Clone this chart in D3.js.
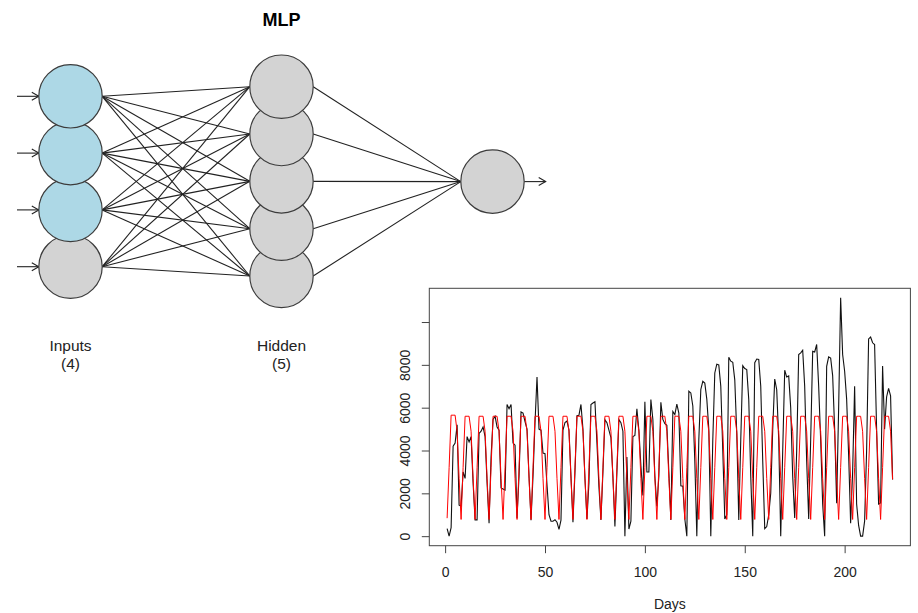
<!DOCTYPE html>
<html>
<head>
<meta charset="utf-8">
<script src="https://cdn.jsdelivr.net/npm/d3@7"></script>
<style>
  body { margin: 0; background: #fff; }
  svg { display: block; font-family: "Liberation Sans", Arial, Helvetica, sans-serif; }
</style>
</head>
<body>
<script>
// Data

// network layers
const layerNames = ['Inputs', 'Hidden', 'Output'];
const layerSizes = [4, 5, 1];
const laggedInputs = 3;

// daily series, days 1..224
const actual = [
  350, 0, 400, 4200, 4350, 5200, 1450, 1400, 3000, 2700, 4650, 4400, 4650, 2500,
  760, 760, 4800, 4900, 5100, 4650, 2500, 600, 3700, 5450, 5600, 5100, 4950, 2250,
  2200, 2150, 6150, 5950, 6150, 4350, 4250, 850, 2800, 5800, 5750, 5350, 5000, 2800,
  750, 2800, 5300, 7430, 5000, 4950, 3880, 3850, 2400, 1000, 700, 700, 770, 650,
  320, 750, 4950, 5300, 5380, 4950, 2800, 650, 3000, 5630, 5650, 6150, 5000, 2700,
  800, 2500, 6150, 6220, 6280, 4350, 2300, 760, 3000, 5440, 5300, 4950, 4600, 2800,
  450, 3000, 5450, 5300, 4900, 0, 3700, 330, 700, 4650, 4700, 5950, 4950, 3300,
  1900, 6280, 3000, 3000, 6380, 5450, 2800, 1400, 2800, 6250, 5450, 5250, 5180, 3000,
  760, 5820, 5680, 6170, 5750, 2350, 2330, 800, 0, 6770, 6690, 6080, 3500, 0,
  4500, 6850, 7230, 7150, 6400, 5000, 0, 4500, 7620, 8030, 8000, 7000, 4000, 800,
  1000, 8350, 8170, 8120, 7300, 4800, 760, 4500, 7960, 7830, 7780, 6380, 2800, 0,
  8100, 8270, 8250, 7000, 3500, 350, 450, 1000, 2000, 5000, 7340, 6840, 4500, 0,
  4000, 7750, 7430, 7480, 6000, 2800, 850, 4000, 8480, 8560, 8680, 7000, 3500, 800,
  4500, 8630, 8600, 8950, 7000, 4500, 1500, 0, 7930, 8370, 8320, 7500, 5000, 1540,
  6000, 11130, 8480, 7700, 6400, 3800, 600, 3000, 7000, 1500, 500, 0, 0, 700,
  4000, 9210, 9300, 9030, 8950, 5000, 1500, 1550, 7950, 5000, 6500, 6900, 6550, 2650
];

const fitted = [
  840, 3200, 5650, 5650, 5650, 4900, 2700,
  780, 3200, 5600, 5600, 5600, 4900, 2700,
  780, 3200, 5600, 5600, 5600, 4900, 2700,
  780, 3200, 5600, 5600, 5600, 4900, 2700,
  780, 3200, 5600, 5600, 5600, 4900, 2700,
  780, 3200, 5600, 5600, 5600, 4900, 2700,
  780, 3200, 5600, 5600, 5600, 4900, 2700,
  780, 3200, 5600, 5600, 5600, 4900, 2700,
  780, 3200, 5600, 5600, 5600, 4900, 2700,
  780, 3200, 5600, 5600, 5600, 4900, 2700,
  780, 3200, 5600, 5600, 5600, 4900, 2700,
  780, 3200, 5600, 5600, 5600, 4900, 2700,
  780, 3200, 5600, 5600, 5600, 4900, 2700,
  780, 3200, 5600, 5600, 5600, 4900, 2700,
  780, 3200, 5600, 5600, 5600, 4900, 2700,
  780, 3200, 5600, 5600, 5600, 4900, 2700,
  780, 3200, 5600, 5600, 5600, 4900, 2700,
  780, 3200, 5600, 5600, 5600, 4900, 2700,
  780, 3200, 5600, 5600, 5600, 4900, 2700,
  780, 3200, 5600, 5600, 5600, 4900, 2700,
  780, 3200, 5600, 5600, 5600, 4900, 2700,
  780, 3200, 5600, 5600, 5600, 4900, 2700,
  780, 3200, 5600, 5600, 5600, 4900, 2700,
  780, 3200, 5600, 5600, 5600, 4900, 2700,
  780, 3200, 5600, 5600, 5600, 4900, 2700,
  780, 3200, 5600, 5600, 5600, 4900, 2700,
  780, 3200, 5600, 5600, 5600, 4900, 2700,
  780, 3200, 5600, 5600, 5600, 4900, 2700,
  780, 3200, 5600, 5600, 5600, 4900, 2700,
  780, 3200, 5600, 5600, 5600, 4900, 2700,
  780, 3200, 5600, 5600, 5600, 4900, 2700,
  780, 3200, 5600, 5600, 5600, 4900, 2650
];

const xTicks = [0, 50, 100, 150, 200];
const yTicks = [0, 2000, 4000, 6000, 8000, 10000];
const yTickLabels = ['0', '2000', '4000', '6000', '8000', ''];

// SVG setup
const width = 918;
const height = 613;

const svg = d3.select('body')
.append('svg')
.attr('width', width)
.attr('height', height);

// ---------- MLP diagram ----------
const radius = 31.7;
const lineColor = '#222';

const xLayer = d3.scalePoint()
.domain(layerNames)
.range([70.5, 492.5]);

const yLayer = {
    Inputs: d3.scalePoint().domain(d3.range(layerSizes[0])).range([96.3, 266.7]),
    Hidden: d3.scalePoint().domain(d3.range(layerSizes[1])).range([86.7, 276]),
    Output: d3.scalePoint().domain(d3.range(layerSizes[2])).range([181.6, 181.6])
};

const nodes = [];
layerNames.forEach((name, li) => {
    d3.range(layerSizes[li]).forEach(i => {
        nodes.push({ layer: name, li: li, i: i, x: xLayer(name), y: yLayer[name](i) });
    });
});

const edges = [];
nodes.forEach(a => {
    nodes.filter(b => b.li === a.li + 1).forEach(b => edges.push({ a, b }));
});

svg.append('g')
.selectAll('line')
.data(edges)
.enter()
.append('line')
.attr('x1', d => d.a.x + radius)
.attr('y1', d => d.a.y)
.attr('x2', d => d.b.x - radius)
.attr('y2', d => d.b.y)
.attr('stroke', lineColor)
.attr('stroke-width', 1.1);

// arrows in and out
function arrow(x1, y1, x2) {
    const g = svg.append('g')
    .attr('stroke', lineColor)
    .attr('stroke-width', 1.1)
    .attr('fill', 'none');
    g.append('line').attr('x1', x1).attr('y1', y1).attr('x2', x2).attr('y2', y1);
    g.append('path').attr('d', `M${x2 - 7},${y1 - 4}L${x2},${y1}L${x2 - 7},${y1 + 4}`);
}
nodes.filter(d => d.li === 0).forEach(d => arrow(17, d.y, d.x - radius));
nodes.filter(d => d.li === 2).forEach(d => arrow(d.x + radius, d.y, 545.7));

// circles: bottom drawn first so the upper ones overlap it
svg.append('g')
.selectAll('circle')
.data(nodes.slice().sort((p, q) => q.i - p.i))
.enter()
.append('circle')
.attr('cx', d => d.x)
.attr('cy', d => d.y)
.attr('r', radius)
.attr('fill', d => (d.li === 0 && d.i < laggedInputs) ? '#add8e6' : '#d3d3d3')
.attr('stroke', '#3c3c3c')
.attr('stroke-width', 1.2);

svg.append('text')
.attr('x', xLayer('Hidden'))
.attr('y', 26)
.attr('text-anchor', 'middle')
.attr('font-size', '18px')
.attr('font-weight', 'bold')
.text('MLP');

['Inputs', 'Hidden'].forEach((name, li) => {
    const t = svg.append('text')
    .attr('text-anchor', 'middle')
    .attr('font-size', '15.5px')
    .attr('fill', '#222');
    t.append('tspan').attr('x', xLayer(name)).attr('y', 350.5).text(name);
    t.append('tspan').attr('x', xLayer(name)).attr('y', 369).text(`(${layerSizes[li]})`);
});

// ---------- time series plot ----------
const box = { left: 429.3, right: 910.4, top: 288.3, bottom: 545.7 };

const xPad = (actual.length - 1) * 0.04;
const xScale = d3.scaleLinear()
.domain([1 - xPad, actual.length + xPad])
.range([box.left, box.right]);

const yMax = d3.max(actual);
const yPad = yMax * 0.04;
const yScale = d3.scaleLinear()
.domain([-yPad, yMax + yPad])
.range([box.bottom, box.top]);

const line = d3.line()
.x((d, i) => xScale(i + 1))
.y(d => yScale(d));

svg.append('path')
.datum(actual)
.attr('d', line)
.attr('fill', 'none')
.attr('stroke', '#111')
.attr('stroke-width', 1.1);

svg.append('path')
.datum(fitted)
.attr('d', line)
.attr('fill', 'none')
.attr('stroke', '#ff0000')
.attr('stroke-width', 1);

svg.append('rect')
.attr('x', box.left)
.attr('y', box.top)
.attr('width', box.right - box.left)
.attr('height', box.bottom - box.top)
.attr('fill', 'none')
.attr('stroke', '#444')
.attr('stroke-width', 1);

// Axes
const xAxis = svg.append('g')
.attr('transform', `translate(0,${box.bottom})`)
.call(d3.axisBottom(xScale).tickValues(xTicks).tickSize(7.5).tickPadding(6).tickSizeOuter(0));

const yAxis = svg.append('g')
.attr('transform', `translate(${box.left},0)`)
.call(d3.axisLeft(yScale).tickValues(yTicks).tickSize(7.5).tickFormat((d, i) => yTickLabels[i]).tickSizeOuter(0));

[xAxis, yAxis].forEach(ax => {
    ax.select('.domain').remove();
    ax.selectAll('line').attr('stroke', '#444');
    ax.selectAll('text')
    .attr('font-family', '"Liberation Sans", Arial, Helvetica, sans-serif')
    .attr('font-size', '14px')
    .attr('fill', '#222');
});

xAxis.selectAll('text')
.attr('y', 31)
.attr('dy', null);

yAxis.selectAll('text')
.attr('x', null)
.attr('dy', null)
.attr('text-anchor', 'middle')
.attr('transform', 'translate(-19,0) rotate(-90)');

svg.append('text')
.attr('x', (box.left + box.right) / 2)
.attr('y', 608.5)
.attr('text-anchor', 'middle')
.attr('font-size', '14px')
.attr('fill', '#222')
.text('Days');
</script>
</body>
</html>
